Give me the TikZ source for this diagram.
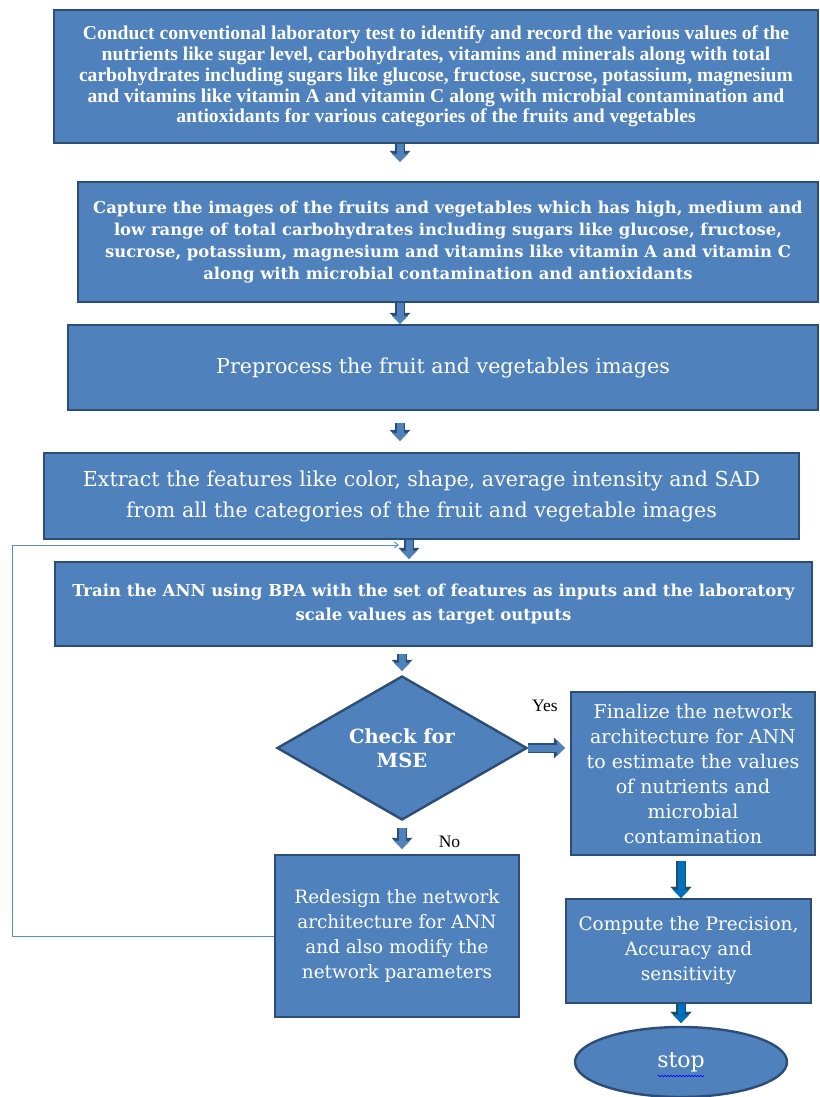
\documentclass[tikz,border=0pt]{standalone}
\usepackage{fontspec}
\setmainfont{Liberation Serif}
\newfontfamily\geo{DejaVu Serif}
\usetikzlibrary{arrows.meta,shapes.geometric,decorations.pathmorphing,calc}
\definecolor{boxfill}{HTML}{4F81BD}
\definecolor{boxedge}{HTML}{2C4D75}
\definecolor{flowblue}{HTML}{0070C0}
\definecolor{flowedge}{HTML}{1F4E5F}
\definecolor{loopline}{HTML}{5B8AC6}

\begin{document}
\begin{tikzpicture}[x=1pt, y=1pt,
	box/.style={draw=boxedge, line width=2.4pt, fill=boxfill, text=white, align=center, inner sep=0pt},
	flow/.style={line width=7pt, draw=boxfill, -{Triangle[length=8pt, width=16pt, line width=0pt]},
		preaction={draw=boxedge, line width=10pt, -{Triangle[length=11pt, width=21pt, line width=0pt]}}},
	flowb/.style={flow, draw=flowblue, preaction={draw=flowedge, line width=10pt, -{Triangle[length=11pt, width=21pt, line width=0pt]}}},
	lab/.style={font=\fontsize{17.5}{20}\selectfont, text=black}]
	\useasboundingbox (0,0) rectangle (819,-1097);
	% boxes of the flow
	\node[box, minimum width=764pt, minimum height=133pt, font=\bfseries\fontsize{19.6}{20.8}\selectfont] (lab test) at (436,-76.5)
		{Conduct conventional laboratory test to identify and record the various values of the\\
		nutrients like sugar level, carbohydrates, vitamins and minerals along with total\\
		carbohydrates including sugars like glucose, fructose, sucrose, potassium, magnesium\\
		and vitamins like vitamin A and vitamin C along with microbial contamination and\\
		antioxidants for various categories of the fruits and vegetables};
	\node[box, minimum width=740pt, minimum height=120pt, font=\geo\bfseries\fontsize{16.4}{22}\selectfont] (capture) at (448,-242)
		{Capture the images of the fruits and vegetables which has high, medium and\\
		low range of total carbohydrates including sugars like glucose, fructose,\\
		sucrose, potassium, magnesium and vitamins like vitamin A and vitamin C\\
		along with microbial contamination and antioxidants};
	\node[box, minimum width=750pt, minimum height=85pt, font=\geo\fontsize{20.6}{24}\selectfont] (preprocess) at (443,-367.5)
		{Preprocess the fruit and vegetables images};
	\node[box, minimum width=755pt, minimum height=86pt, font=\geo\fontsize{20.6}{31}\selectfont] (extract) at (421.5,-496)
		{Extract the features like color, shape, average intensity and SAD\\
		from all the categories of the fruit and vegetable images};
	\node[box, minimum width=757pt, minimum height=84pt, font=\geo\bfseries\fontsize{16.5}{24}\selectfont] (train) at (433.5,-604)
		{Train the ANN using BPA with the set of features as inputs and the laboratory\\
		scale values as target outputs};
	\node[box, diamond, aspect=1.74, minimum width=250pt, minimum height=144pt, font=\geo\bfseries\fontsize{19.5}{24}\selectfont] (mse) at (402,-748)
		{Check for\\MSE};
	\node[box, minimum width=244pt, minimum height=163pt, font=\geo\fontsize{19}{25}\selectfont] (finalize) at (693,-773.5)
		{Finalize the network\\architecture for ANN\\to estimate the values\\of nutrients and\\microbial\\contamination};
	\node[box, minimum width=244pt, minimum height=162pt, font=\geo\fontsize{18.4}{25}\selectfont] (redesign) at (397,-936)
		{Redesign the network\\architecture for ANN\\and also modify the\\network parameters};
	\node[box, minimum width=245pt, minimum height=104pt, font=\geo\fontsize{18.5}{25}\selectfont] (compute) at (688.5,-951)
		{Compute the Precision,\\Accuracy and\\sensitivity};
	\node[box, ellipse, minimum width=212pt, minimum height=70pt, font=\geo\fontsize{22}{24}\selectfont] (stop) at (681,-1062) {stop};
	\draw[blue, line width=0.6pt, decorate, decoration={snake, amplitude=0.8pt, segment length=3pt}] ($(stop.center)+(-23,-14)$) -- ($(stop.center)+(23,-14)$);
	% columns of the arrows
	\coordinate (col) at (400,0);
	\coordinate (col2) at (409,0);
	\coordinate (fb) at (399,-545);
	\draw[flow, shorten >=19pt] (lab test.south -| col) -- (capture.north -| col);
	\draw[flow] (capture.south -| col) -- (preprocess.north -| col);
	\draw[flow, shorten <=12pt, shorten >=11pt] (preprocess.south -| col) -- (extract.north -| col);
	\draw[flow, shorten >=2pt] (extract.south -| col2) -- (train.north -| col2);
	\draw[flow, shorten <=7pt, shorten >=4pt] (train.south -| mse) -- (mse.north);
	\draw[flow, shorten >=5pt] (mse.east) -- (mse.east -| finalize.west) node[lab, pos=0.4, above=30pt] {Yes};
	\draw[flow, shorten <=7pt, shorten >=5pt] (mse.south) -- (redesign.north -| mse) node[lab, midway, right=30pt, yshift=-4pt] {No};
	\draw[flowb, shorten <=5pt] (finalize.south -| stop) -- (compute.north -| stop);
	\draw[flowb, shorten >=3pt] (compute.south -| stop) -- (stop.north);
	% loop back to training
	\draw[loopline, line width=0.9pt, -{Straight Barb[length=4pt, width=6pt]}] (redesign.west) -| (12,-545) -- (fb);
\end{tikzpicture}
\end{document}
